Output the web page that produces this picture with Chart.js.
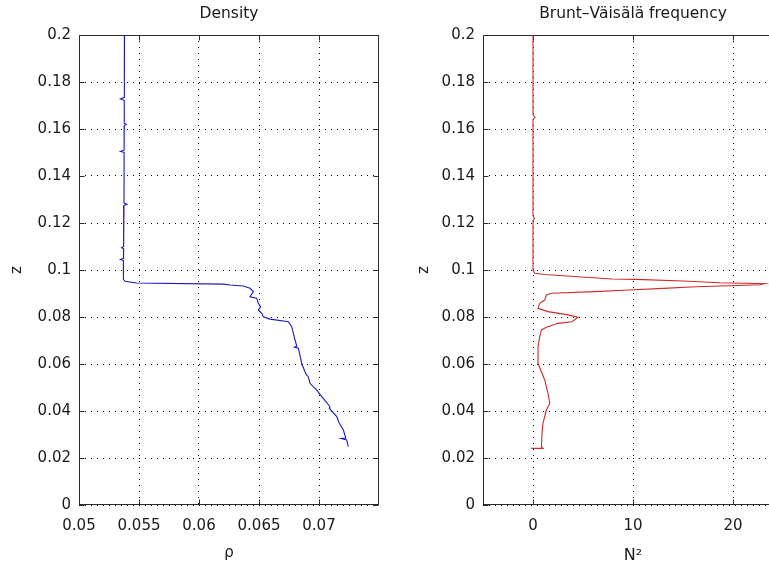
<!DOCTYPE html>
<html>
<head>
<meta charset="utf-8">
<script src="https://cdn.jsdelivr.net/npm/chart.js@4.4.1/dist/chart.umd.min.js"></script>
<style>
  html, body { margin: 0; padding: 0; background: #fff; overflow: hidden; width: 769px; height: 567px; }
  canvas { position: absolute; top: 0; }
  #chartDensity { left: 0; }
  #chartBV { left: 380px; }
</style>
</head>
<body>
<canvas id="chartDensity" width="458" height="567"></canvas>
<canvas id="chartBV" width="498" height="567"></canvas>
<script>
// perfil de densidade (z, rho)
const densityZ = [0.2, 0.19, 0.1735, 0.1728, 0.1722, 0.1625, 0.162, 0.1615, 0.151, 0.1505, 0.15,
  0.1285, 0.128, 0.1275, 0.11, 0.1095, 0.109, 0.105, 0.1045, 0.104, 0.096, 0.0952, 0.0945, 0.094,
  0.0936, 0.0932, 0.0922, 0.0908, 0.0886, 0.088, 0.0858, 0.0844, 0.083, 0.0816, 0.0801, 0.0791,
  0.078, 0.0759, 0.0702, 0.0676, 0.0672, 0.0667, 0.0603, 0.0567, 0.0552, 0.0546, 0.0518, 0.0489,
  0.0461, 0.0418, 0.0412, 0.0376, 0.0352, 0.0319, 0.0285, 0.0283, 0.0277, 0.0248];
const densityRho = [0.05379, 0.05378, 0.05378, 0.05345, 0.05377, 0.05377, 0.05395, 0.05377, 0.05376, 0.05345, 0.05376,
  0.05375, 0.05400, 0.05375, 0.05372, 0.05355, 0.05372, 0.05371, 0.05345, 0.05371, 0.05370, 0.05383, 0.05481, 0.06203,
  0.06258, 0.06369, 0.06425, 0.06453, 0.06425, 0.06481, 0.06494, 0.06514, 0.06494, 0.06523, 0.06536, 0.06592,
  0.06744, 0.06773, 0.06800, 0.06815, 0.06795, 0.06828, 0.06856, 0.06883, 0.06897, 0.06911, 0.06925, 0.06981,
  0.07023, 0.07092, 0.07085, 0.07148, 0.07165, 0.07203, 0.07223, 0.07185, 0.07231, 0.07244];

// frequencia de Brunt-Vaisala (z, N^2)
const bvZ = [0.2, 0.166, 0.165, 0.164, 0.123, 0.122, 0.121, 0.1, 0.0986, 0.0981, 0.0971, 0.0962, 0.096,
  0.0953, 0.0946, 0.0942, 0.0937, 0.0933, 0.0929, 0.0922, 0.0915, 0.0908, 0.0901, 0.0894, 0.0872,
  0.0858, 0.0837, 0.0823, 0.0809, 0.0799, 0.078, 0.0773, 0.0756, 0.0745, 0.0716, 0.0674, 0.0603,
  0.0567, 0.0532, 0.0475, 0.0433, 0.0404, 0.0348, 0.0305, 0.0248, 0.0241, 0.0241];
const bvN2 = [0, 0, 0.2, 0, 0, 0.15, 0, 0, 0.17, 1.18, 4.5, 7.9, 10.3,
  15.0, 18.7, 23.2, 22.7, 19.7, 16.3, 13.0, 9.6, 6.2, 1.85, 1.34, 1.17,
  0.67, 0.5, 1.5, 3.5, 4.5, 3.9, 2.5, 1.34, 0.84, 0.67, 0.5, 0.5,
  0.84, 1.17, 1.5, 1.68, 1.34, 1.0, 0.9, 0.84, 1.0, -0.17];

const zTicks = [0, 0.02, 0.04, 0.06, 0.08, 0.1, 0.12, 0.14, 0.16, 0.18, 0.2];
const zTickLabels = ['0', '0.02', '0.04', '0.06', '0.08', '0.1', '0.12', '0.14', '0.16', '0.18', '0.2'];
const rhoTicks = [0.05, 0.055, 0.06, 0.065, 0.07];
const rhoTickLabels = ['0.05', '0.055', '0.06', '0.065', '0.07'];
const n2Ticks = [0, 10, 20];
const n2TickLabels = ['0', '10', '20'];

const FONT = 'DejaVu Sans';
const TXT = '#1a1a1a';

// caixa do eixo + marcas internas, estilo matlab
const boxPlugin = {
    id: 'boxPlugin',
    beforeDatasetsDraw(chart) {
        const { ctx, chartArea: a, scales } = chart;
        const l = Math.round(a.left) + 0.5, r = Math.round(a.right) - 0.5;
        const t = Math.round(a.top) + 0.5, b = Math.round(a.bottom) - 0.5;
        ctx.save();
        ctx.strokeStyle = '#2b2b2b';
        ctx.lineWidth = 1;
        ctx.setLineDash([]);
        ctx.strokeRect(l, t, r - l, b - t);
        ctx.beginPath();
        scales.x.ticks.forEach(tk => {
            const px = Math.round(scales.x.getPixelForValue(tk.value)) + 0.5;
            ctx.moveTo(px, b); ctx.lineTo(px, b - 5);
            ctx.moveTo(px, t); ctx.lineTo(px, t + 5);
        });
        scales.y.ticks.forEach(tk => {
            const py = Math.round(scales.y.getPixelForValue(tk.value)) + 0.5;
            ctx.moveTo(l, py); ctx.lineTo(l + 5, py);
            ctx.moveTo(r, py); ctx.lineTo(r - 5, py);
        });
        ctx.stroke();
        ctx.restore();
    }
};

function montarGrafico(id, cfg) {
    const pts = cfg.xs.map((v, i) => ({ x: v, y: cfg.zs[i] }));
    return new Chart(document.getElementById(id), {
        type: 'scatter',
        data: {
            datasets: [{
                data: pts,
                xAxisID: 'x',
                yAxisID: 'y',
                showLine: true,
                borderColor: cfg.color,
                borderWidth: 1.1,
                pointRadius: 0,
                tension: 0
            }]
        },
        options: {
            responsive: false,
            animation: false,
            layout: { padding: { left: 0, right: cfg.padRight, top: 0, bottom: 0 } },
            plugins: {
                legend: { display: false },
                tooltip: { enabled: false }
            },
            scales: {
                x: {
                    type: 'linear',
                    min: cfg.xMin,
                    max: cfg.xMax,
                    afterBuildTicks: s => { s.ticks = cfg.xTicks.map(v => ({ value: v })); },
                    afterFit: s => { s.height = 62; },
                    ticks: {
                        autoSkip: false,
                        maxRotation: 0,
                        padding: 12,
                        color: TXT,
                        font: { family: FONT, size: 15 },
                        callback: (v, i) => cfg.xLabels[i]
                    },
                    grid: { color: '#000', lineWidth: 1, drawTicks: false },
                    border: { display: false, dash: [1, 5] },
                    title: {
                        display: true,
                        text: cfg.xTitle,
                        color: TXT,
                        font: { family: FONT, size: cfg.xTitleSize },
                        padding: { top: 0, bottom: cfg.xTitlePad }
                    }
                },
                y: {
                    type: 'linear',
                    min: 0,
                    max: 0.2,
                    afterBuildTicks: s => { s.ticks = zTicks.map(v => ({ value: v })); },
                    afterFit: s => { s.width = cfg.yWidth; },
                    ticks: {
                        autoSkip: false,
                        padding: 8,
                        color: TXT,
                        font: { family: FONT, size: 15 },
                        callback: (v, i) => zTickLabels[i]
                    },
                    grid: { color: '#000', lineWidth: 1, drawTicks: false },
                    border: { display: false, dash: [1, 5] },
                    title: {
                        display: true,
                        text: 'z',
                        color: TXT,
                        font: { family: FONT, size: 15 },
                        padding: { top: cfg.yTitlePad, bottom: 0 }
                    }
                },
                // eixo de cima só para o título, centrado sobre a área do gráfico
                topo: {
                    type: 'linear',
                    position: 'top',
                    min: 0,
                    max: 1,
                    afterFit: s => { s.height = 35; },
                    ticks: { display: false },
                    grid: { display: false, drawTicks: false },
                    border: { display: false },
                    title: {
                        display: true,
                        text: cfg.title,
                        color: TXT,
                        font: { family: FONT, size: 15.5 },
                        padding: { top: 4.5, bottom: 0 }
                    }
                }
            }
        },
        plugins: [boxPlugin]
    });
}

montarGrafico('chartDensity', {
    xs: densityRho, zs: densityZ, color: '#1a1ab8',
    title: 'Density', xTitle: 'ρ', xTitleSize: 15,
    xMin: 0.05, xMax: 0.075, xTicks: rhoTicks, xLabels: rhoTickLabels,
    padRight: 79, yWidth: 79, yTitlePad: 8, xTitlePad: 5
});

montarGrafico('chartBV', {
    xs: bvN2, zs: bvZ, color: '#d02a2a',
    title: 'Brunt–Väisälä frequency', xTitle: 'N²', xTitleSize: 16,
    xMin: -5, xMax: 25, xTicks: n2Ticks, xLabels: n2TickLabels,
    padRight: 95, yWidth: 103, yTitlePad: 35, xTitlePad: 2
});
</script>
</body>
</html>
